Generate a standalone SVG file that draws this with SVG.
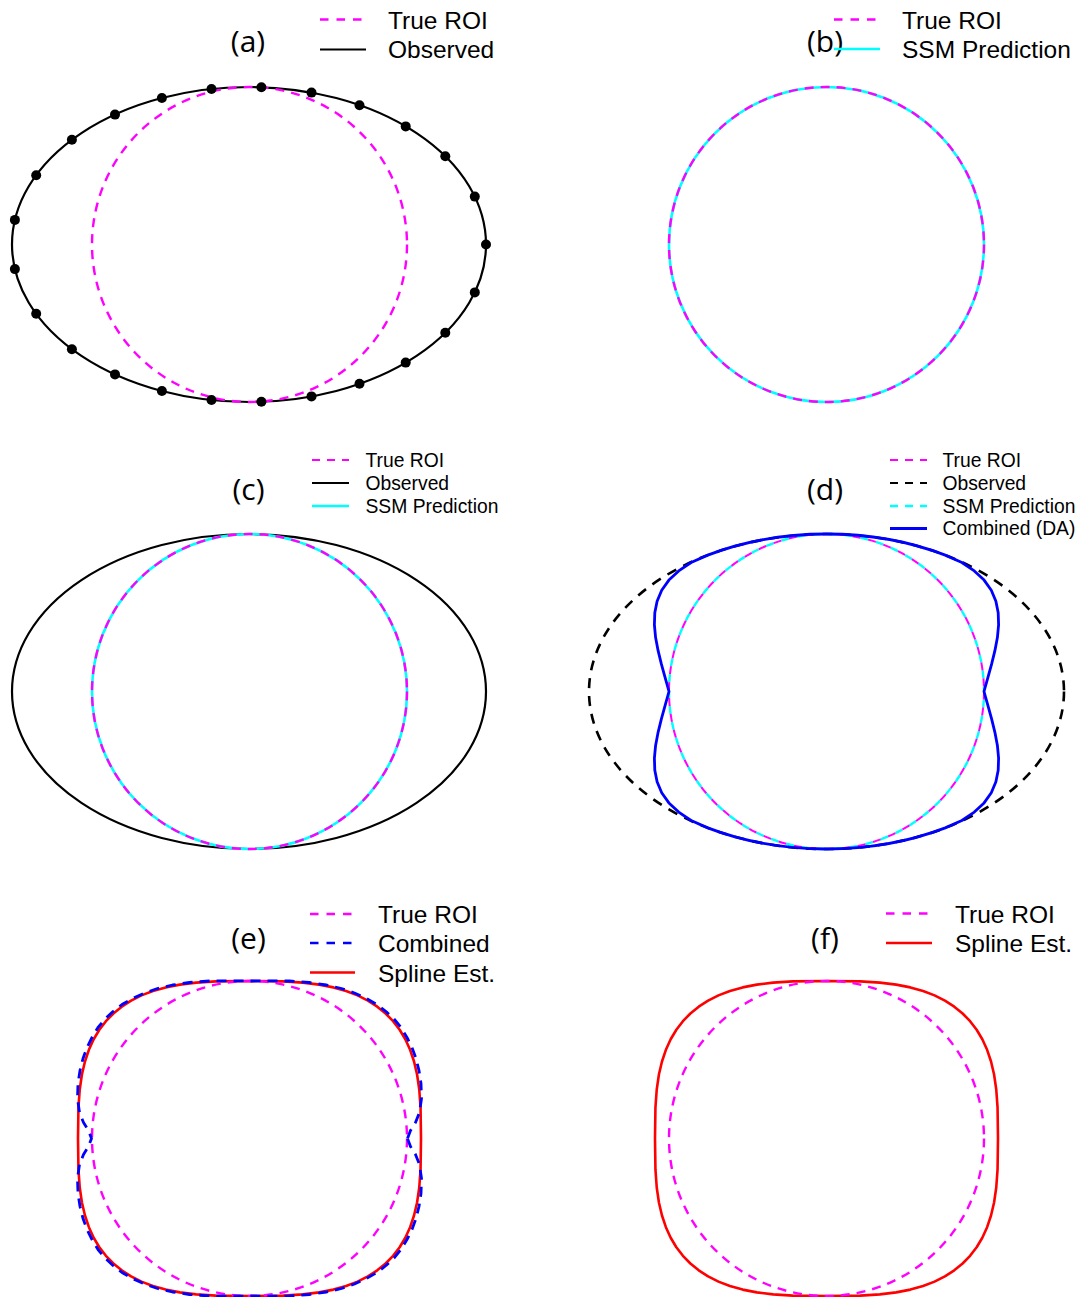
<svg xmlns="http://www.w3.org/2000/svg" xmlns:xlink="http://www.w3.org/1999/xlink" width="1083" height="1297" viewBox="0 0 1083 1297">
<style>
.mag{fill:none;stroke:#ff00ff;stroke-width:2.4;stroke-dasharray:9 7}
.magt{fill:none;stroke:#ff00ff;stroke-width:2;stroke-dasharray:8 8}
.cyd{fill:none;stroke:#00ffff;stroke-width:2.4;stroke-dasharray:8 8;stroke-dashoffset:8}
.blk{fill:none;stroke:#000;stroke-width:2.2}
.blkd{fill:none;stroke:#000;stroke-width:2.6;stroke-dasharray:10 8}
.cyan{fill:none;stroke:#00ffff;stroke-width:2.6}
.blue{fill:none;stroke:#0000ff;stroke-width:2.8;stroke-linejoin:round}
.blued{fill:none;stroke:#0000ff;stroke-width:2.8;stroke-dasharray:10 7;stroke-linejoin:round}
.red{fill:none;stroke:#ff0000;stroke-width:2.6;stroke-linejoin:round}
.leg{font-family:"Liberation Sans",Arial,sans-serif;font-size:24.5px;fill:#000}
.legs{font-family:"Liberation Sans",Arial,sans-serif;font-size:19.3px;fill:#000}
.lab{font-family:"Open Sans","DejaVu Sans",sans-serif;font-size:30px;text-anchor:middle;fill:#000}
</style>
<defs>
<path id="sq" d="M171.5,0 L171.06,-30.96 169.76,-49.03 167.58,-63.96 164.53,-77.02 160.61,-88.7 155.82,-99.22 150.15,-108.74 143.58,-117.32 136.12,-125 127.75,-131.86 118.4,-137.89 108.04,-143.1 96.59,-147.5 83.86,-151.1 69.65,-153.9 53.39,-155.9 33.72,-157.1 0,-157.5 -33.72,-157.1 -53.39,-155.9 -69.65,-153.9 -83.86,-151.1 -96.59,-147.5 -108.04,-143.1 -118.4,-137.89 -127.75,-131.86 -136.12,-125 -143.58,-117.32 -150.15,-108.74 -155.82,-99.22 -160.61,-88.7 -164.53,-77.02 -167.58,-63.96 -169.76,-49.03 -171.06,-30.96 -171.5,0 -171.06,30.96 -169.76,49.03 -167.58,63.96 -164.53,77.02 -160.61,88.7 -155.82,99.22 -150.15,108.74 -143.58,117.32 -136.12,125 -127.75,131.86 -118.4,137.89 -108.04,143.1 -96.59,147.5 -83.86,151.1 -69.65,153.9 -53.39,155.9 -33.72,157.1 0,157.5 33.72,157.1 53.39,155.9 69.65,153.9 83.86,151.1 96.59,147.5 108.04,143.1 118.4,137.89 127.75,131.86 136.12,125 143.58,117.32 150.15,108.74 155.82,99.22 160.61,88.7 164.53,77.02 167.58,63.96 169.76,49.03 171.06,30.96 Z"/>
</defs>

<g id="panel-a">
  <ellipse class="blk" cx="249" cy="244.5" rx="237" ry="157.5"/>
  <circle class="mag" cx="249.5" cy="244.5" r="157.5"/>
  <g fill="#000">
    <circle cx="486" cy="244.5" r="5"/><circle cx="474.8" cy="196.6" r="5"/><circle cx="445.3" cy="156.2" r="5"/><circle cx="405.7" cy="126.4" r="5"/><circle cx="359.5" cy="105.2" r="5"/><circle cx="311.5" cy="92.6" r="5"/><circle cx="261.4" cy="87.2" r="5"/><circle cx="211.5" cy="89" r="5"/><circle cx="161.9" cy="98" r="5"/><circle cx="115" cy="114.6" r="5"/><circle cx="71.9" cy="139.8" r="5"/><circle cx="36.2" cy="175.2" r="5"/><circle cx="14.9" cy="219.9" r="5"/><circle cx="14.9" cy="269.1" r="5"/><circle cx="36.2" cy="313.8" r="5"/><circle cx="71.9" cy="349.2" r="5"/><circle cx="115" cy="374.4" r="5"/><circle cx="161.9" cy="391" r="5"/><circle cx="211.5" cy="400" r="5"/><circle cx="261.4" cy="401.8" r="5"/><circle cx="311.5" cy="396.4" r="5"/><circle cx="359.5" cy="383.8" r="5"/><circle cx="405.7" cy="362.6" r="5"/><circle cx="445.3" cy="332.8" r="5"/><circle cx="474.8" cy="292.4" r="5"/>
  </g>
  <text class="lab" x="248" y="52">(a)</text>
  <g id="legend-a">
    <line class="mag" x1="320" y1="19.5" x2="363" y2="19.5" style="stroke-dasharray:8.5 8"/>
    <line class="blk" x1="320" y1="49.5" x2="366" y2="49.5"/>
    <text class="leg" x="388" y="29">True ROI</text>
    <text class="leg" x="388" y="57.5">Observed</text>
  </g>
</g>

<g id="panel-b">
  <circle class="cyan" cx="826.5" cy="244.5" r="157.5"/>
  <circle class="mag" cx="826.5" cy="244.5" r="157.5"/>
  <text class="lab" x="825" y="52">(b)</text>
  <g id="legend-b">
    <line class="mag" x1="834" y1="19.5" x2="877" y2="19.5" style="stroke-dasharray:8.5 8"/>
    <line class="cyan" x1="834" y1="49" x2="880" y2="49"/>
    <text class="leg" x="902" y="29">True ROI</text>
    <text class="leg" x="902" y="57.5">SSM Prediction</text>
  </g>
</g>

<g id="panel-c">
  <ellipse class="blk" cx="249" cy="691.5" rx="237" ry="157.5"/>
  <circle class="cyan" cx="249.5" cy="691.5" r="157.5"/>
  <circle class="mag" cx="249.5" cy="691.5" r="157.5"/>
  <text class="lab" x="248.5" y="500">(c)</text>
  <g id="legend-c">
    <line class="magt" x1="312" y1="460" x2="349" y2="460" style="stroke-dasharray:8 7"/>
    <line class="blk" x1="312" y1="483" x2="349" y2="483"/>
    <line class="cyan" x1="312" y1="506" x2="349" y2="506"/>
    <text class="legs" x="365.5" y="467">True ROI</text>
    <text class="legs" x="365.5" y="489.5">Observed</text>
    <text class="legs" x="365.5" y="512.5">SSM Prediction</text>
  </g>
</g>

<g id="panel-d">
  <ellipse class="blkd" cx="826.5" cy="691.5" rx="237.5" ry="157.5"/>
  <circle class="cyd" cx="826.5" cy="691.5" r="157.5"/>
  <circle class="magt" cx="826.5" cy="691.5" r="157.5"/>
  <path class="blue" transform="translate(826.5,691.5)" d="M-118.75,-136.4 L-135.4,-129 -147.8,-120.6 -157.6,-111.4 -164.8,-101.2 -169.4,-90.3 -171.7,-78.75 -172.1,-66.6 -170.9,-53.9 -168.4,-40.8 -165.1,-27.3 -161.3,-13.7 -157.5,0 -161.3,13.7 -165.1,27.3 -168.4,40.8 -170.9,53.9 -172.1,66.6 -171.7,78.75 -169.4,90.3 -164.8,101.2 -157.6,111.4 -147.8,120.6 -135.4,129 -118.75,136.4 A237.5,157.5 0 0 0 118.75,136.4 L135.4,129 147.8,120.6 157.6,111.4 164.8,101.2 169.4,90.3 171.7,78.75 172.1,66.6 170.9,53.9 168.4,40.8 165.1,27.3 161.3,13.7 157.5,0 161.3,-13.7 165.1,-27.3 168.4,-40.8 170.9,-53.9 172.1,-66.6 171.7,-78.75 169.4,-90.3 164.8,-101.2 157.6,-111.4 147.8,-120.6 135.4,-129 118.75,-136.4 A237.5,157.5 0 0 0 -118.75,-136.4 Z"/>
  <text class="lab" x="825" y="500">(d)</text>
  <g id="legend-d">
    <line class="magt" x1="890" y1="460" x2="927" y2="460" style="stroke-dasharray:8 7"/>
    <line class="blkd" x1="890" y1="483" x2="927" y2="483" style="stroke-dasharray:8 7;stroke-width:2.2"/>
    <line class="cyd" x1="890" y1="506" x2="927" y2="506" style="stroke-dasharray:8 7;stroke-dashoffset:0"/>
    <line class="blue" x1="890" y1="528.5" x2="927" y2="528.5"/>
    <text class="legs" x="942.5" y="467">True ROI</text>
    <text class="legs" x="942.5" y="489.5">Observed</text>
    <text class="legs" x="942.5" y="512.5">SSM Prediction</text>
    <text class="legs" x="942.5" y="535">Combined (DA)</text>
  </g>
</g>

<g id="panel-e">
  <use xlink:href="#sq" href="#sq" class="red" transform="translate(249.5,1138.5)"/>
  <circle class="mag" cx="249.5" cy="1138.5" r="157.5"/>
  <path class="blued" transform="translate(249.5,1138.5)" d="M158,0 L161,-8 166,-16 170,-26 172,-40 171.5,-55 169.5,-68 166.5,-80 162.5,-91 157.5,-101 151.5,-111 144.5,-119.5 136.5,-127 127.5,-134 117,-140 105,-145.5 92,-150 77,-153.5 60,-156 40,-157.5 20,-157.6 0,-157.5 -20,-157.6 -40,-157.5 -60,-156 -77,-153.5 -92,-150 -105,-145.5 -117,-140 -127.5,-134 -136.5,-127 -144.5,-119.5 -151.5,-111 -157.5,-101 -162.5,-91 -166.5,-80 -169.5,-68 -171.5,-55 -172,-40 -170,-26 -166,-16 -161,-8 -158,0 -161,8 -166,16 -170,26 -172,40 -171.5,55 -169.5,68 -166.5,80 -162.5,91 -157.5,101 -151.5,111 -144.5,119.5 -136.5,127 -127.5,134 -117,140 -105,145.5 -92,150 -77,153.5 -60,156 -40,157.5 -20,157.6 0,157.5 20,157.6 40,157.5 60,156 77,153.5 92,150 105,145.5 117,140 127.5,134 136.5,127 144.5,119.5 151.5,111 157.5,101 162.5,91 166.5,80 169.5,68 171.5,55 172,40 170,26 166,16 161,8 Z"/>
  <text class="lab" x="248.5" y="949">(e)</text>
  <g id="legend-e">
    <line class="mag" x1="310" y1="914" x2="353" y2="914" style="stroke-dasharray:8.5 8"/>
    <line class="blued" x1="310" y1="943" x2="353" y2="943" style="stroke-dasharray:8.5 8;stroke-width:2.4"/>
    <line class="red" x1="310" y1="972.5" x2="355" y2="972.5"/>
    <text class="leg" x="378" y="923">True ROI</text>
    <text class="leg" x="378" y="952">Combined</text>
    <text class="leg" x="378" y="981.5">Spline Est.</text>
  </g>
</g>

<g id="panel-f">
  <use xlink:href="#sq" href="#sq" class="red" transform="translate(826.5,1138.5)"/>
  <circle class="mag" cx="826.5" cy="1138.5" r="157.5"/>
  <text class="lab" x="825" y="949">(f)</text>
  <g id="legend-f">
    <line class="mag" x1="886" y1="913.5" x2="929" y2="913.5" style="stroke-dasharray:8.5 8"/>
    <line class="red" x1="886" y1="943" x2="932" y2="943"/>
    <text class="leg" x="955" y="923">True ROI</text>
    <text class="leg" x="955" y="952">Spline Est.</text>
  </g>
</g>
</svg>
